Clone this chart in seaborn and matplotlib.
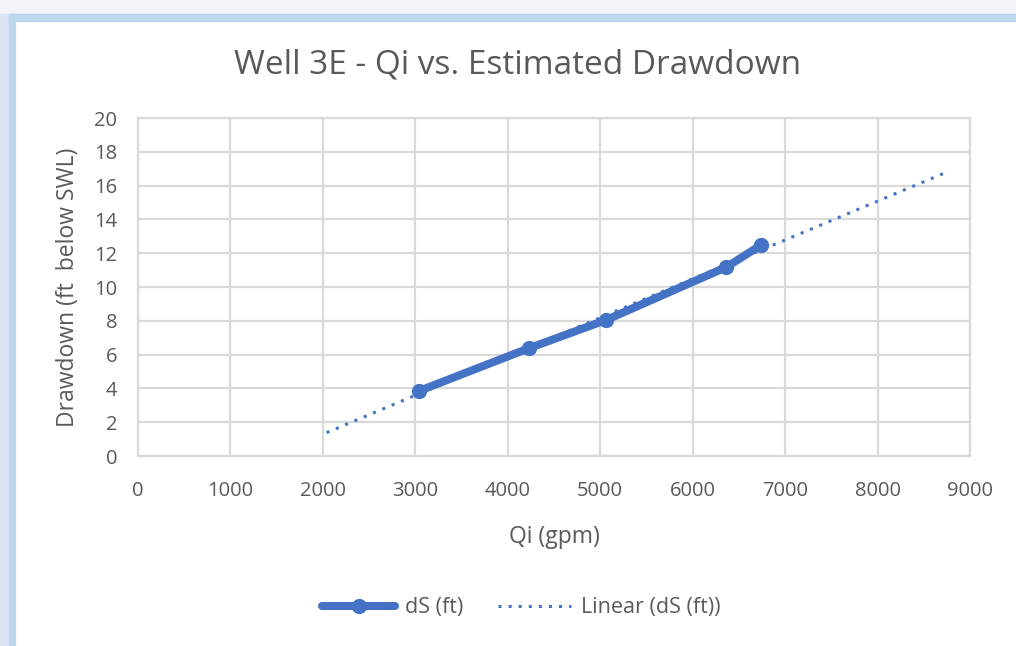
import numpy as np
import pandas as pd
import matplotlib
matplotlib.use("Agg")
import matplotlib.pyplot as plt
from matplotlib.patches import Rectangle
import seaborn as sns

# data
qi_gpm = [3040, 4230, 5065, 6365, 6740]
ds_ft = [3.85, 6.38, 8.05, 11.18, 12.48]
trend_backward = 1000
trend_forward = 2000

x_ticks = list(range(0, 9001, 1000))
y_ticks = list(range(0, 21, 2))

blue = "#4472C4"
gray_txt = "#595959"
grid_c = "#D9D9D9"

sns.set_theme(style="white")
plt.rcParams['font.family'] = ['Open Sans', 'DejaVu Sans']

df = pd.DataFrame({"Qi": qi_gpm, "dS": ds_ft})

# linear trendline (least squares), extended like excel forecast
slope, icpt = np.polyfit(df["Qi"], df["dS"], 1)
tx = np.array([min(qi_gpm) - trend_backward, max(qi_gpm) + trend_forward])
trend = pd.DataFrame({"Qi": tx, "dS": slope * tx + icpt})

fig = plt.figure(figsize=(10.16, 6.46), dpi=100)
fig.patch.set_facecolor("white")

# outer window frame
fig.patches.append(Rectangle((0, 0.978), 1, 0.022, transform=fig.transFigure,
                             color="#F2F4F9", zorder=0))
fig.patches.append(Rectangle((0, 0), 0.009, 0.978, transform=fig.transFigure,
                             color="#DCE3F3", zorder=0))
fig.patches.append(Rectangle((0.009, 0.968), 0.991, 0.01, transform=fig.transFigure,
                             color="#BDD7EE", zorder=0))
fig.patches.append(Rectangle((0.009, 0), 0.006, 0.978, transform=fig.transFigure,
                             color="#BDD7EE", zorder=0))

ax = fig.add_axes([0.1358, 0.2941, 0.8189, 0.5232])

sns.lineplot(data=trend, x="Qi", y="dS", ax=ax, color=blue, lw=2.2,
             linestyle=(0, (1, 2.3)), label="Linear (dS (ft))", zorder=3)
sns.lineplot(data=df, x="Qi", y="dS", ax=ax, color=blue, lw=5.8,
             marker="o", markersize=11, markeredgewidth=0, label="dS (ft)",
             zorder=4)

ax.set_xlim(0, 9000)
ax.set_ylim(0, 20)
ax.set_xticks(x_ticks)
ax.set_yticks(y_ticks)
ax.grid(True, color=grid_c, lw=1.6)
for s in ax.spines.values():
    s.set_color(grid_c)
    s.set_linewidth(1.6)
ax.tick_params(axis="both", length=0, labelsize=14.5, labelcolor=gray_txt)
ax.tick_params(axis="x", pad=18)
ax.tick_params(axis="y", pad=15)

ax.set_xlabel("Qi (gpm)", fontsize=16.5, color=gray_txt, labelpad=17)
ax.set_ylabel("Drawdown (ft  below SWL)", fontsize=16.5, color=gray_txt, labelpad=10)
ax.set_title("Well 3E - Qi vs. Estimated Drawdown", fontsize=24, color=gray_txt,
             pad=32, x=0.456)

h, l = ax.get_legend_handles_labels()
ax.legend(h[::-1], l[::-1], loc="center", bbox_to_anchor=(0.513, 0.059),
          bbox_transform=fig.transFigure, ncol=2, frameon=False, fontsize=15.5,
          labelcolor=gray_txt, handlelength=3.4, columnspacing=1.6, handletextpad=0.45)

fig.savefig("out.png", dpi=100)
